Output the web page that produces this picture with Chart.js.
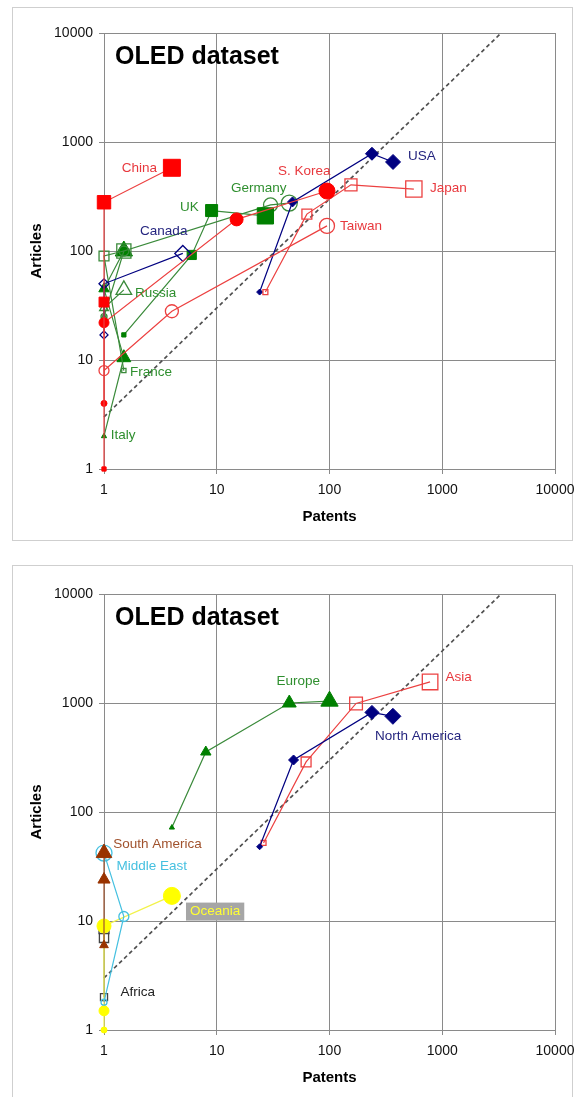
<!DOCTYPE html>
<html>
<head>
<meta charset="utf-8">
<script src="https://cdn.jsdelivr.net/npm/chart.js@4"></script>
<style>
body { margin:0; background:#fff; width:575px; height:1097px; overflow:hidden; position:relative; }
.frame { position:absolute; border:1px solid #cfcfcf; }
#frame1 { left:12px; top:7px; width:559px; height:532px; }
#frame2 { left:12px; top:565px; width:559px; height:560px; }
canvas { position:absolute; left:0; }
#c1 { top:0; }
#c2 { top:561px; }
</style>
</head>
<body>
<div class="frame" id="frame1"></div>
<div class="frame" id="frame2"></div>
<canvas id="c1" width="575" height="545"></canvas>
<canvas id="c2" width="575" height="545"></canvas>
<script>
// top chart: countries (patents vs articles, four periods)
let chinaX = [1, 1, 1, 4], chinaY = [1, 34, 280, 580]
let koreaX = [1, 1, 15, 95], koreaY = [4, 22, 195, 355]
let taiwanX = [1, 4, 95], taiwanY = [8, 28, 170]
let japanX = [27, 63, 155, 560], japanY = [42, 218, 405, 370]
let usaX = [24, 47, 238, 366], usaY = [42, 282, 780, 656]
let canadaX = [1, 1, 5], canadaY = [17, 50, 95]
let ukX = [1.5, 6, 9, 27], ukY = [17, 92, 235, 210]
let germanyX = [1, 1.5, 30, 44], germanyY = [25, 100, 265, 275]
let russiaX = [1, 1, 1.5], russiaY = [25, 30, 44]
let franceX = [1.5, 1, 1.5], franceY = [8, 90, 100]
let italyX = [1, 1.5, 1, 1.5], italyY = [2, 10.5, 45, 100]

// bottom chart: regions
let europeX = [4, 8, 44, 100], europeY = [72, 355, 1000, 1040]
let namX = [24, 48, 238, 365], namY = [48, 300, 820, 755]
let asiaX = [26, 62, 172, 780], asiaY = [52, 288, 990, 1560]
let samX = [1, 1, 1], samY = [6, 24, 42]
let meX = [1, 1.5, 1], meY = [1.8, 11, 42]
let oceX = [1, 1, 1, 4], oceY = [1, 1.5, 9, 17]
let afrX = [1, 1, 1], afrY = [2, 7, 8.5]

// parity line y = 3x
let parityX = [1, 3333], parityY = [3, 10000]

let decadeTicks = [1, 10, 100, 1000, 10000]

const RED = "#ff0000", RED_LINE = "#ec4040", RED_TEXT = "#e8383d"
const GREEN = "#008000", GREEN_LINE = "#3a8a3a", GREEN_TEXT = "#2f8f2f"
const NAVY = "#000080", NAVY_TEXT = "#25257f"
const FONT = '"Liberation Sans", Arial, sans-serif'

let series = function (xs, ys, style, sizes, color, filled, lineColor) {
    return {
        data: xs.map((x, i) => ({x: x, y: ys[i]})),
        showLine: true,
        borderColor: lineColor || color,
        borderWidth: 1.2,
        pointStyle: style,
        pointRadius: sizes,
        pointHoverRadius: sizes,
        pointBackgroundColor: filled ? color : "rgba(0,0,0,0)",
        pointBorderColor: color,
        pointBorderWidth: filled ? 1 : 1.3,
        clip: false
    }
}

let parity = {
    data: parityX.map((x, i) => ({x: x, y: parityY[i]})),
    showLine: true,
    borderColor: "#505050",
    borderWidth: 1.7,
    borderDash: [4, 3],
    pointRadius: 0,
    clip: false
}

// labels are anchored at data coordinates (left edge, vertical middle)
let notes = {
    id: "notes",
    afterDatasetsDraw(chart, args, opts) {
        let ctx = chart.ctx
        let area = chart.chartArea
        let xs = chart.scales.x, ys = chart.scales.y
        ctx.save()
        ctx.fillStyle = "#000"
        ctx.font = "bold 25px " + FONT
        ctx.textBaseline = "alphabetic"
        ctx.textAlign = "left"
        ctx.fillText("OLED dataset", area.left + 11, area.top + 31)
        ctx.font = "13.5px " + FONT
        ctx.textBaseline = "middle"
        opts.labels.forEach(l => {
            let px = xs.getPixelForValue(l.x), py = ys.getPixelForValue(l.y)
            if (l.bg) {
                let w = ctx.measureText(l.text).width
                ctx.fillStyle = l.bg
                ctx.fillRect(px - 4, py - 9, w + 8, 18)
            }
            ctx.fillStyle = l.color
            ctx.fillText(l.text, px, py)
        })
        ctx.restore()
    }
}

let makeChart = function (id, datasets, labels) {
    return new Chart(document.getElementById(id), {
        type: "scatter",
        data: {datasets: datasets},
        options: {
            responsive: false,
            animation: false,
            devicePixelRatio: 1,
            layout: {padding: {left: 12, right: 12, top: 33, bottom: 10}},
            plugins: {legend: {display: false}, tooltip: {enabled: false}, notes: {labels: labels}},
            scales: {
                x: {
                    type: "logarithmic", min: 1, max: 10000,
                    afterBuildTicks: s => { s.ticks = decadeTicks.map(v => ({value: v})) },
                    afterFit: s => { s.height = 66; s.paddingRight = 20 },
                    ticks: {font: {size: 14, family: FONT}, color: "#111", padding: 8, callback: v => String(v), maxRotation: 0},
                    grid: {color: "#8a8a8a", lineWidth: 1, tickLength: 5},
                    border: {color: "#8a8a8a"},
                    title: {display: true, text: "Patents", color: "#000", font: {size: 15, weight: "bold", family: FONT}, padding: {top: 0, bottom: 9}}
                },
                y: {
                    type: "logarithmic", min: 1, max: 10000,
                    afterBuildTicks: s => { s.ticks = decadeTicks.map(v => ({value: v})) },
                    afterFit: s => { s.width = 92 },
                    ticks: {font: {size: 14, family: FONT}, color: "#111", padding: 6, callback: v => String(v)},
                    grid: {color: "#8a8a8a", lineWidth: 1, tickLength: 5},
                    border: {color: "#8a8a8a"},
                    title: {display: true, text: "Articles", color: "#000", font: {size: 15, weight: "bold", family: FONT}, padding: {top: 16, bottom: 0}}
                }
            }
        },
        plugins: [notes]
    })
}

makeChart("c1", [
    series(chinaX, chinaY, "rect", [3, 7, 9.5, 12], RED, true, RED_LINE),
    series(koreaX, koreaY, "circle", [3, 5, 6.5, 8], RED, true, RED_LINE),
    series(taiwanX, taiwanY, "circle", [5, 6.5, 7.5], RED_LINE, false),
    series(japanX, japanY, "rect", [3.5, 7, 8.5, 11.5], RED_LINE, false),
    series(usaX, usaY, "rectRot", [3, 5, 6.5, 7.5], NAVY, true),
    series(canadaX, canadaY, "rectRot", [4, 5, 8], NAVY, false),
    series(ukX, ukY, "rect", [3, 6.5, 8.5, 11.5], GREEN, true, GREEN_LINE),
    series(germanyX, germanyY, "circle", [3, 5, 7, 8], GREEN_LINE, false),
    series(russiaX, russiaY, "triangle", [3, 5, 9], GREEN_LINE, false),
    series(franceX, franceY, "rect", [3, 7, 10], GREEN_LINE, false),
    series(italyX, italyY, "triangle", [3, 8, 6, 10], GREEN, true, GREEN_LINE),
    parity
], [
    {text: "China", x: 1.44, y: 577, color: RED_TEXT},
    {text: "UK", x: 4.72, y: 253, color: GREEN_TEXT},
    {text: "Canada", x: 2.09, y: 153, color: NAVY_TEXT},
    {text: "Russia", x: 1.88, y: 41.2, color: GREEN_TEXT},
    {text: "France", x: 1.70, y: 7.76, color: GREEN_TEXT},
    {text: "Italy", x: 1.15, y: 2.05, color: GREEN_TEXT},
    {text: "Germany", x: 13.4, y: 378, color: GREEN_TEXT},
    {text: "S. Korea", x: 34.9, y: 542, color: RED_TEXT},
    {text: "USA", x: 497, y: 744, color: NAVY_TEXT},
    {text: "Japan", x: 779, y: 378, color: RED_TEXT},
    {text: "Taiwan", x: 124, y: 170, color: RED_TEXT}
])

makeChart("c2", [
    series(europeX, europeY, "triangle", [3, 6, 8, 10], GREEN, true, GREEN_LINE),
    series(namX, namY, "rectRot", [3, 5, 7, 8], NAVY, true),
    series(asiaX, asiaY, "rect", [3.5, 7, 9, 11], RED_LINE, false),
    series(samX, samY, "triangle", [5, 7, 9], "#993300", true, "#a0522d"),
    series(meX, meY, "circle", [3, 5, 8], "#45c0e0", false),
    series(oceX, oceY, "circle", [3, 5, 7, 8.5], "#ffff00", true, "#f2f24a"),
    series(afrX, afrY, "rect", [5, 6.5, 7], "#444", false, "#777"),
    parity
], [
    {text: "Europe", x: 33.9, y: 1571, color: GREEN_TEXT},
    {text: "Asia", x: 1069, y: 1710, color: RED_TEXT},
    {text: "North America", x: 253, y: 494, color: NAVY_TEXT},
    {text: "South America", x: 1.21, y: 51, color: "#a0522d"},
    {text: "Middle East", x: 1.29, y: 31.5, color: "#45c0e0"},
    {text: "Oceania", x: 5.79, y: 12.2, color: "#ffff33", bg: "#a6a6a6"},
    {text: "Africa", x: 1.40, y: 2.22, color: "#222"}
])
</script>
</body>
</html>
